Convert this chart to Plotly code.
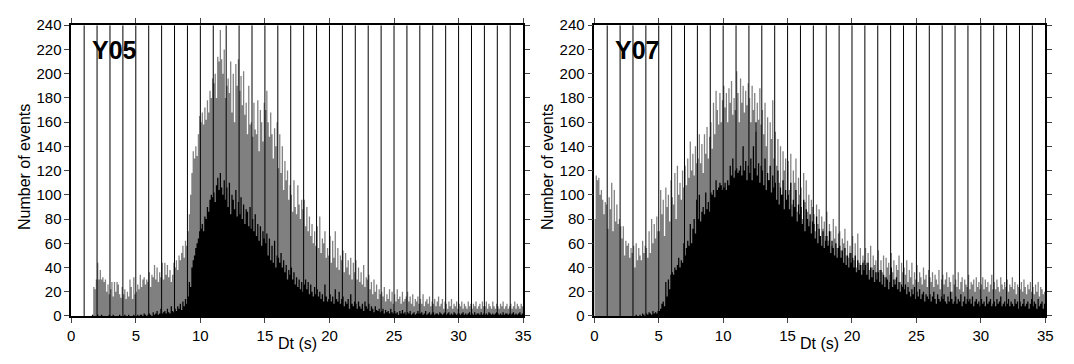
import numpy as np
import plotly.graph_objects as go

# Bin width 0.1 s, 0..35 s (350 bins).
BIN = 0.1
panels = ["Y05", "Y07"]
y_ticks = list(range(0, 241, 20))
x_ticks = [0, 5, 10, 15, 20, 25, 30, 35]

y05_all = [
    0,0,0,0,0,0,0,0,0,0,
    0,0,0,0,0,0,0,24,22,30,
    44,30,38,30,32,28,30,20,26,18,
    22,28,16,28,20,28,26,18,15,24,
    18,22,14,20,16,30,24,14,32,18,
    20,26,22,34,24,30,32,26,30,28,
    36,24,34,32,42,30,40,28,36,32,
    44,30,44,34,42,32,38,28,34,44,
    40,46,38,50,46,52,58,48,62,58,
    70,84,100,118,136,130,140,132,150,165,
    160,168,158,172,162,178,168,186,180,196,
    192,200,180,214,210,236,212,200,220,180,
    190,196,184,210,168,200,160,208,190,212,
    186,198,174,202,166,176,150,190,158,160,
    148,176,154,150,178,136,170,160,144,176,
    170,186,160,148,168,150,130,155,140,160,
    122,150,118,140,104,128,112,120,96,108,
    100,86,112,90,84,108,92,80,96,88,
    96,74,90,70,82,66,76,60,70,58,
    74,56,82,52,64,60,70,48,56,50,
    66,44,62,48,70,40,56,38,50,46,
    54,36,52,40,46,34,48,30,44,36,
    46,30,40,28,36,26,42,24,32,30,
    34,22,28,18,30,20,26,14,22,18,
    20,16,24,12,18,14,22,12,20,10,
    18,12,22,14,16,10,20,12,14,16,
    20,12,16,10,18,8,14,12,16,10,
    14,10,18,8,12,14,10,16,8,12,
    10,14,8,12,16,8,10,14,6,12,
    10,6,12,8,14,6,10,8,12,6,
    10,8,12,6,10,8,6,12,8,10,
    6,10,8,12,6,8,10,6,12,8,
    8,12,6,10,8,6,12,8,6,10,
    8,6,10,8,12,6,8,10,6,8,
    10,6,8,12,6,10,8,6,10,8,
]

y05_sub = [
    0,0,0,0,0,0,0,0,0,0,
    0,0,0,0,0,0,1,0,0,0,
    1,0,0,1,0,0,0,0,0,1,
    0,0,1,0,0,0,0,1,0,0,
    0,1,0,0,1,0,0,0,1,0,
    0,1,0,1,1,0,2,1,0,1,
    2,1,0,3,1,2,4,1,2,6,
    2,3,4,2,6,3,2,8,4,3,
    6,4,8,6,10,5,12,8,14,10,
    16,28,24,40,46,50,56,60,64,70,
    72,76,70,82,80,90,86,96,100,98,
    102,94,108,114,104,118,106,100,112,96,
    106,90,110,84,100,96,88,104,82,94,
    84,98,80,92,76,88,86,74,90,72,
    80,70,84,66,76,62,74,58,70,64,
    60,68,50,64,46,58,44,62,40,50,
    48,44,52,40,46,36,42,30,38,34,
    40,30,36,26,32,24,30,22,28,20,
    26,30,22,28,18,26,20,16,24,18,
    22,16,20,14,18,12,26,16,12,14,
    18,12,16,10,22,14,12,20,10,14,
    16,8,12,10,14,6,18,10,8,12,
    10,6,12,8,6,10,4,12,8,6,
    10,4,8,6,3,8,5,4,6,3,
    4,6,2,5,3,4,2,6,3,2,
    4,2,3,1,4,2,5,2,3,1,
    3,2,4,1,2,3,1,2,4,2,
    2,3,1,2,4,1,2,3,1,2,
    3,1,2,2,1,3,2,1,2,3,
    1,2,3,1,2,1,3,2,1,2,
    2,1,2,3,1,2,1,2,3,1,
    2,1,3,1,2,2,1,3,1,2,
    1,2,1,3,2,1,2,1,2,3,
    2,1,2,1,3,1,2,2,1,2,
    1,2,3,1,2,1,2,3,1,2,
]

y07_all = [
    80,116,112,114,100,104,96,84,94,92,
    72,98,88,110,70,104,78,92,76,80,
    74,64,74,50,62,58,60,48,56,52,
    58,40,60,46,56,50,46,62,52,58,
    56,48,70,52,80,60,76,64,82,70,
    70,104,84,96,66,106,90,100,78,112,
    98,92,118,80,124,100,110,96,120,106,
    124,108,130,114,144,120,134,116,140,126,
    130,150,126,142,118,150,134,156,130,148,
    160,138,176,150,186,170,158,184,160,178,
    190,172,184,160,188,176,194,166,180,170,
    202,184,160,196,176,190,168,186,174,192,
    180,160,190,170,184,152,176,162,188,158,
    170,150,176,140,164,112,160,146,178,130,
    152,124,146,110,140,100,136,120,130,96,
    128,104,134,92,120,110,130,86,114,100,
    106,80,118,94,112,86,100,78,96,90,
    84,70,92,76,88,64,82,72,78,66,
    86,62,76,70,58,80,64,74,56,68,
    70,54,64,60,72,50,62,48,58,52,
    66,46,60,40,68,44,56,42,50,46,
    56,44,52,38,58,40,50,42,46,36,
    54,38,46,36,50,32,48,40,44,34,
    52,36,46,30,42,38,50,28,44,36,
    40,34,46,28,38,32,44,26,36,30,
    42,28,36,32,26,40,30,34,24,38,
    32,28,36,24,34,30,26,38,22,30,
    34,26,30,36,24,32,28,20,34,26,
    30,24,36,22,28,32,20,30,26,24,
    34,22,28,26,30,20,32,24,28,22,
    26,32,22,30,24,28,20,26,34,22,
    28,22,30,24,20,32,26,22,28,24,
    30,20,26,24,32,22,28,18,26,24,
    22,28,20,30,24,18,26,22,28,20,
    24,18,26,20,28,16,24,22,18,20,
]

y07_sub = [
    0,0,0,0,0,0,0,0,0,0,
    0,0,0,0,0,0,0,0,0,0,
    0,0,0,0,0,0,0,0,0,0,
    0,0,1,0,0,1,0,2,1,0,
    2,1,3,2,1,4,2,3,2,4,
    4,6,10,12,8,28,16,30,22,34,
    36,34,40,38,42,48,40,46,44,60,
    50,56,62,58,76,60,72,80,68,96,
    80,100,78,86,90,84,102,88,94,86,
    102,100,104,98,112,104,106,110,108,104,
    106,110,104,112,108,124,116,130,114,120,
    122,118,120,124,116,140,120,128,112,124,
    118,130,112,140,122,160,116,126,110,124,
    120,108,130,104,118,112,124,102,116,106,
    110,96,120,92,106,100,112,88,104,96,
    100,88,110,82,96,90,104,78,92,84,
    90,76,96,70,88,80,74,84,68,78,
    76,64,82,60,72,66,58,70,56,62,
    66,58,70,52,62,56,50,60,48,56,
    58,48,54,44,56,42,50,40,52,44,
    48,40,50,36,46,38,42,34,44,38,
    42,34,44,30,40,32,38,28,36,30,
    36,28,38,26,34,24,32,30,22,28,
    40,24,30,26,32,22,28,20,26,24,
    22,26,18,24,20,16,22,18,24,14,
    20,16,22,14,18,20,12,18,16,14,
    18,12,16,20,14,10,18,14,12,16,
    14,18,12,10,16,12,20,14,10,12,
    16,10,14,12,18,8,12,16,10,14,
    12,14,10,16,8,12,14,10,12,8,
    14,10,12,8,16,10,12,14,8,10,
    12,8,14,10,12,16,8,10,12,8,
    10,14,8,12,10,8,14,10,12,6,
    12,8,10,14,8,10,12,6,10,14,
    8,12,10,6,14,8,10,12,6,10,
]

series = {"Y05": (y05_all, y05_sub), "Y07": (y07_all, y07_sub)}

FONT = "Liberation Sans, Arial, Helvetica, sans-serif"
fig = go.Figure()

W, H = 1074, 364
xdom = [[68 / W, 525 / W], [597 / W, 1053 / W]]
ydom = [(H - 322) / H, (H - 17) / H]


def step_xy(vals):
    # histogram outline: left bin edges with a closing right edge
    edges = list(np.arange(len(vals) + 1) * BIN)
    ys = list(vals) + [vals[-1]]
    return edges, ys


for i, name in enumerate(panels):
    allv, subv = series[name]
    xa = "x" if i == 0 else "x2"
    ya = "y" if i == 0 else "y2"
    for vals, col in ((allv, "#808080"), (subv, "#000000")):
        ex, ey = step_xy(vals)
        fig.add_trace(go.Scatter(x=ex, y=ey, mode="lines", line=dict(shape="hv", width=0, color=col),
                                 fill="tozeroy", fillcolor=col, xaxis=xa, yaxis=ya,
                                 showlegend=False, hoverinfo="skip"))
    for s in range(1, 35):
        fig.add_shape(type="line", xref=xa, yref=ya, x0=s, x1=s, y0=0, y1=240,
                      line=dict(color="black", width=1), layer="above")
    fig.add_annotation(text="<b>%s</b>" % name, xref="paper", yref="paper",
                       x=(xdom[i][0] * W + 19) / W, y=(H - 43) / H, xanchor="left", yanchor="middle",
                       showarrow=False, font=dict(family=FONT, size=25, color="black"))
    fig.add_annotation(text="Number of events", xref="paper", yref="paper",
                       x=(xdom[i][0] * W - 48) / W, y=(H - 166) / H, textangle=-90,
                       xanchor="center", yanchor="middle", showarrow=False,
                       font=dict(family=FONT, size=16, color="black"))
    fig.add_annotation(text="Dt (s)", xref="paper", yref="paper",
                       x=(xdom[i][0] + xdom[i][1]) / 2, y=(H - 351) / H,
                       xanchor="center", yanchor="middle", showarrow=False,
                       font=dict(family=FONT, size=16, color="black"))

axis_common_x = dict(range=[0, 35], tickvals=x_ticks, ticks="outside", ticklen=5, tickwidth=1,
                     showline=True, linecolor="black", linewidth=2, mirror="ticks",
                     showgrid=False, zeroline=False,
                     tickfont=dict(family=FONT, size=15, color="black"))
axis_common_y = dict(range=[0, 240], tickvals=y_ticks, ticks="outside", ticklen=5, tickwidth=1,
                     showline=True, linecolor="black", linewidth=1.5, mirror="ticks",
                     showgrid=False, zeroline=False,
                     tickfont=dict(family=FONT, size=15, color="black"))

fig.update_layout(
    width=W, height=H,
    margin=dict(l=0, r=0, t=0, b=0),
    paper_bgcolor="white", plot_bgcolor="white",
    xaxis=dict(domain=xdom[0], anchor="y", **axis_common_x),
    yaxis=dict(domain=ydom, anchor="x", **axis_common_y),
    xaxis2=dict(domain=xdom[1], anchor="y2", **axis_common_x),
    yaxis2=dict(domain=ydom, anchor="x2", **axis_common_y),
)

fig.write_html("out.html")
